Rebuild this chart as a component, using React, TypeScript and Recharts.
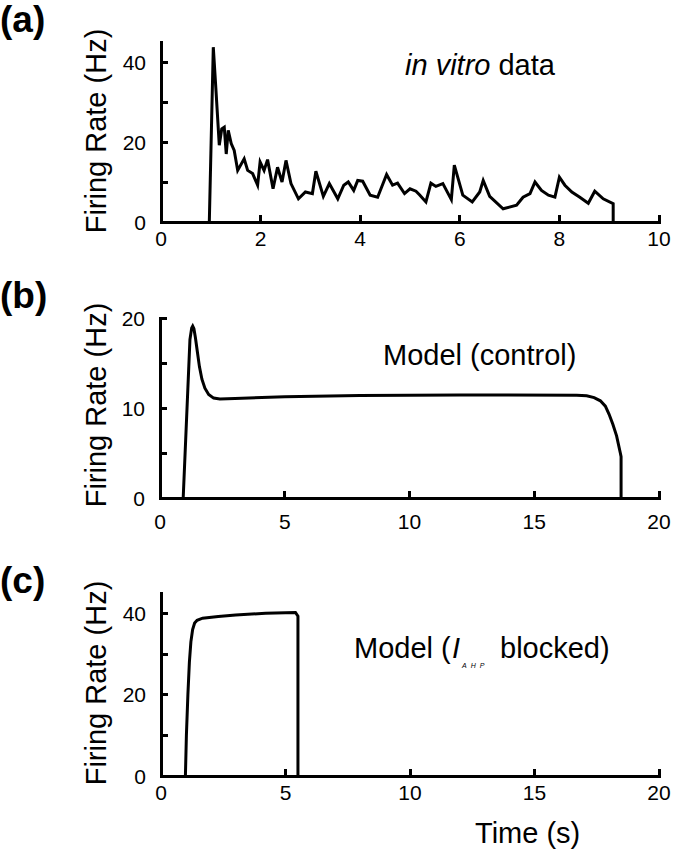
import { Line, LineChart, XAxis, YAxis } from "recharts";

// (a) in vitro data
const vitroTime = [
  0.97, 1.05, 1.1, 1.17, 1.22, 1.27, 1.31, 1.35, 1.41, 1.47, 1.54, 1.67, 1.74, 1.84, 1.94, 1.99, 2.07, 2.14,
  2.25, 2.34, 2.43, 2.51, 2.61, 2.76, 2.9, 3.04, 3.11, 3.26, 3.38, 3.55, 3.67, 3.76, 3.87, 3.95, 4.05, 4.2,
  4.35, 4.53, 4.65, 4.75, 4.89, 5.0, 5.12, 5.19, 5.32, 5.42, 5.52, 5.66, 5.83, 5.89, 6.06, 6.25, 6.4, 6.47,
  6.6, 6.87, 7.14, 7.27, 7.41, 7.51, 7.64, 7.78, 7.91, 8.0, 8.11, 8.25, 8.41, 8.58, 8.71, 8.88, 9.08, 9.08,
];
const vitroRate = [
  0, 43.7, 33.7, 19.2, 23.3, 23.7, 17, 22.9, 19.6, 17.9, 12.9, 15.8, 12.9, 12.1, 9.2, 15, 12.9, 15.6, 8.3,
  13.7, 10, 15.4, 9.6, 5.8, 7.5, 7.1, 12.7, 6.4, 9.6, 5.8, 9.2, 10, 7.9, 10.4, 10.2, 6.7, 6.2, 11.9, 9.2,
  9.7, 7.1, 8.3, 7.7, 6.8, 5, 9.7, 8.9, 9.6, 5.6, 14.2, 6.7, 5, 7.5, 10.4, 6.4, 3.3, 4.2, 6.2, 7.1, 10, 7.9,
  6.7, 6.2, 11.2, 9.2, 7.5, 6.2, 4.7, 7.7, 5.8, 4.6, 0,
];

// (b) model, control
const controlTime = [
  0.93, 1.2, 1.27, 1.31, 1.36, 1.42, 1.5, 1.58, 1.68, 1.8, 1.95, 2.15, 2.4, 3, 5, 8, 12, 16.7, 17.1, 17.4,
  17.65, 17.85, 18.0, 18.15, 18.3, 18.45, 18.48, 18.48,
];
const controlRate = [
  0, 17.6, 18.9, 19.1, 18.8, 17.8, 16.2, 14.6, 13.2, 12.2, 11.5, 11.1, 11.0, 11.05, 11.25, 11.4, 11.45, 11.42,
  11.35, 11.15, 10.8, 10.2, 9.3, 8.2, 6.9, 5.0, 4.6, 0,
];

// (c) model, I_AHP blocked
const blockedTime = [0.98, 1.02, 1.08, 1.14, 1.2, 1.27, 1.35, 1.45, 1.67, 2.3, 3, 4.2, 5.0, 5.4, 5.5, 5.5];
const blockedRate = [0, 10, 20, 28, 33, 36, 37.6, 38.3, 38.8, 39.2, 39.6, 40, 40.15, 40.2, 39.3, 0];

const font = "'Liberation Sans', Arial, sans-serif";
const CHART_W = 688;
const M_TOP = 42;
const M_RIGHT = 29;
const X_AXIS_H = 30;
const M_BOTTOM = 8;

function toRows(t: number[], r: number[]) {
  return t.map((x, i) => ({ t: x, r: r[i] }));
}

function XTick(props: any) {
  const { x, y, payload, labelGap } = props;
  return (
    <text x={x} y={y + labelGap + 15} textAnchor="middle" fontSize={21} fontFamily={font} fill="#000">
      {payload.value}
    </text>
  );
}

function YTick(props: any) {
  const { x, y, payload, labels } = props;
  if (!labels.includes(payload.value)) return <g />;
  return (
    <text x={x - 15} y={y + 7.5} textAnchor="end" fontSize={21} fontFamily={font} fill="#000">
      {payload.value}
    </text>
  );
}

// axis frame as plain boxes, using the same plot-area geometry as the chart
function Frame({ left, plotH, xMax, xTicks, yMax, yTicks }: any) {
  const plotW = CHART_W - M_RIGHT - left;
  const bottom = M_TOP + plotH;
  const bar = (l: number, t: number, w: number, h: number, k: string) => (
    <div key={k} style={{ position: "absolute", left: l, top: t, width: w, height: h, background: "#000" }} />
  );
  const parts = [
    bar(left - 1.5, M_TOP - 1.5, 3, plotH + 3, "ya"),
    bar(left - 1.5, bottom - 1.5, plotW + 3, 3, "xa"),
  ];
  xTicks.forEach((v: number) => {
    if (v === 0) return;
    const px = left + (v / xMax) * plotW;
    parts.push(bar(px - 1.5, bottom - 7, 3, 7, `xt${v}`));
  });
  yTicks.forEach((v: number) => {
    if (v === 0) return;
    const py = bottom - (v / yMax) * plotH;
    parts.push(bar(left, py - 1.5, 7, 3, `yt${v}`));
  });
  return <>{parts}</>;
}

interface PanelProps {
  top: number;
  height: number;
  left: number;
  rows: { t: number; r: number }[];
  xMax: number;
  xTicks: number[];
  yMax: number;
  yTicks: number[];
  yLabels: number[];
  labelGap: number;
}

function Panel({ top, height, left, rows, xMax, xTicks, yMax, yTicks, yLabels, labelGap }: PanelProps) {
  const plotH = height - M_TOP - M_BOTTOM - X_AXIS_H;
  return (
    <div style={{ position: "absolute", left: 0, top, width: CHART_W, height }}>
      <Frame left={left} plotH={plotH} xMax={xMax} xTicks={xTicks} yMax={yMax} yTicks={yTicks} />
      <div style={{ position: "absolute", left: 0, top: 0 }}>
        <LineChart
          width={CHART_W}
          height={height}
          data={rows}
          margin={{ top: M_TOP, right: M_RIGHT, bottom: M_BOTTOM, left: 0 }}
        >
          <XAxis
            dataKey="t"
            type="number"
            domain={[0, xMax]}
            ticks={xTicks}
            height={X_AXIS_H}
            axisLine={false}
            tickLine={false}
            tickSize={0}
            tickMargin={0}
            tick={<XTick labelGap={labelGap} />}
            interval={0}
          />
          <YAxis
            type="number"
            domain={[0, yMax]}
            ticks={yTicks}
            width={left}
            axisLine={false}
            tickLine={false}
            tickSize={0}
            tickMargin={0}
            tick={<YTick labels={yLabels} />}
            interval={0}
          />
          <Line
            dataKey="r"
            type="linear"
            stroke="#000"
            strokeWidth={3}
            dot={false}
            isAnimationActive={false}
          />
        </LineChart>
      </div>
    </div>
  );
}

function YTitle({ cy }: { cy: number }) {
  return (
    <text
      x={106}
      y={cy}
      transform={`rotate(-90, 106, ${cy})`}
      textAnchor="middle"
      fontSize={29}
      fontFamily={font}
      fill="#000"
    >
      Firing Rate (Hz)
    </text>
  );
}

export default function App() {
  return (
    <div style={{ position: "absolute", left: 0, top: 0, width: 688, height: 853, background: "#fff" }}>
      <Panel
        top={0}
        height={260}
        left={161}
        rows={toRows(vitroTime, vitroRate)}
        xMax={10}
        xTicks={[0, 2, 4, 6, 8, 10]}
        yMax={45}
        yTicks={[0, 10, 20, 30, 40]}
        yLabels={[0, 20, 40]}
        labelGap={9}
      />
      <Panel
        top={276}
        height={260}
        left={160}
        rows={toRows(controlTime, controlRate)}
        xMax={20}
        xTicks={[0, 5, 10, 15, 20]}
        yMax={20}
        yTicks={[0, 5, 10, 15, 20]}
        yLabels={[0, 10, 20]}
        labelGap={16}
      />
      <Panel
        top={551}
        height={263}
        left={161}
        rows={toRows(blockedTime, blockedRate)}
        xMax={20}
        xTicks={[0, 5, 10, 15, 20]}
        yMax={45}
        yTicks={[0, 10, 20, 30, 40]}
        yLabels={[0, 20, 40]}
        labelGap={9}
      />
      <svg
        width={688}
        height={853}
        style={{ position: "absolute", left: 0, top: 0, pointerEvents: "none" }}
      >
        <g fontFamily={font} fill="#000">
          <text x={0} y={32} fontSize={37} fontWeight="bold">(a)</text>
          <text x={0} y={308} fontSize={37} fontWeight="bold">(b)</text>
          <text x={0} y={593} fontSize={37} fontWeight="bold">(c)</text>
          <YTitle cy={131} />
          <YTitle cy={405} />
          <YTitle cy={683} />
          <text x={405} y={75} fontSize={29}>
            <tspan fontStyle="italic">in vitro</tspan> data
          </text>
          <text x={383} y={365} fontSize={29}>Model (control)</text>
          <text x={354} y={658} fontSize={29}>Model (</text>
          <text x={452} y={658} fontSize={29} fontStyle="italic">I</text>
          <text x={462} y={668} fontSize={7} fontStyle="italic" letterSpacing={4}>AHP</text>
          <text x={500} y={658} fontSize={29}>blocked)</text>
          <text x={475} y={843} fontSize={29}>Time (s)</text>
        </g>
      </svg>
    </div>
  );
}
